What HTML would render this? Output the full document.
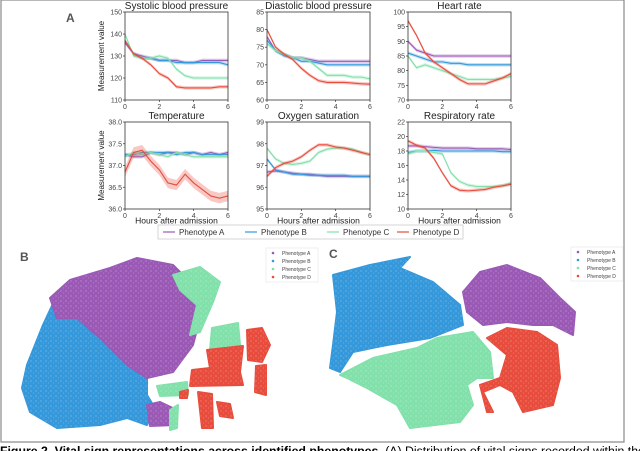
<!DOCTYPE html>
<html><head><meta charset="utf-8">
<style>
html,body{margin:0;padding:0;background:#fff;}
body{width:640px;height:451px;overflow:hidden;position:relative;font-family:"Liberation Sans",Arial,sans-serif;}
svg{position:absolute;left:0;top:0;}
</style></head>
<body>
<svg id="fig" width="640" height="451" viewBox="0 0 640 451">
  <rect x="1" y="0" width="623" height="442" fill="none" stroke="#888" stroke-width="1.2"/>
  <text x="66" y="22" font-size="12" font-weight="bold" fill="#555">A</text>
  <text x="20" y="261" font-size="12" font-weight="bold" fill="#555">B</text>
  <text x="329" y="258" font-size="12" font-weight="bold" fill="#555">C</text>
  <g id="lines"></g>
  <g id="scatter"></g>
  <text x="0" y="455" font-size="12.3" font-weight="bold" fill="#000">Figure 2. Vital sign representations across identified phenotypes.  <tspan font-weight="normal">(A) Distribution of vital signs recorded within the initial</tspan></text>
</svg>
<script>
const NS="http://www.w3.org/2000/svg";
const hours=[0,0.5,1,1.5,2,2.5,3,3.5,4,4.5,5,5.5,6];
const phenotypes=["Phenotype A","Phenotype B","Phenotype C","Phenotype D"];
const colors=["#9b59b6","#3498db","#82e0aa","#e74c3c"];
const titles=["Systolic blood pressure","Diastolic blood pressure","Heart rate","Temperature","Oxygen saturation","Respiratory rate"];
const yTicks=[[110,120,130,140,150],[60,65,70,75,80,85],[70,75,80,85,90,95,100],[36.0,36.5,37.0,37.5,38.0],[95,96,97,98,99],[10,12,14,16,18,20,22]];
const yTickLabels=[["110","120","130","140","150"],["60","65","70","75","80","85"],["70","75","80","85","90","95","100"],["36.0","36.5","37.0","37.5","38.0"],["95","96","97","98","99"],["10","12","14","16","18","20","22"]];
const xTicks=[0,2,4,6];
const sysA=[136,131,130,129,128,128,128,127,127,128,128,128,128];
const sysB=[137,131,129,129,128,128,127,127,127,127,127,127,126];
const sysC=[140,130,129,129,130,129,124,121,120,120,120,120,120];
const sysD=[137,131,129,126,122,120,116,115.5,115.5,115.5,115.5,116,116];
const diaA=[78,74,73,72,72,71.5,71,71,71,71,71,71,71];
const diaB=[77,74,72.5,72,71,71,70.5,70,70,70,70,70,70];
const diaC=[76,74,73,72,72,71,69,67,67,67,66.5,66.5,66];
const diaD=[80,75,73,71.5,69,67,65.5,65,65,65,64.8,64.6,64.5];
const hrA=[90,87,86,85,85,85,85,85,85,85,85,85,85];
const hrB=[86,85,84,83,83,82.5,82.5,82,82,82,82,82,82];
const hrC=[85,81,82,81,80,79,78,77,77,77,77,77.5,78];
const hrD=[97,92,86,83,81,79,77,75.5,75.5,75.5,76.5,77.5,79];
const tmpA=[37.25,37.2,37.2,37.3,37.25,37.3,37.3,37.25,37.3,37.25,37.3,37.25,37.3];
const tmpB=[37.25,37.25,37.3,37.3,37.3,37.3,37.25,37.3,37.3,37.25,37.25,37.25,37.25];
const tmpC=[37.2,37.3,37.25,37.3,37.25,37.2,37.3,37.25,37.2,37.2,37.2,37.2,37.2];
const tmpD=[36.85,37.3,37.35,37.1,36.9,36.6,36.55,36.8,36.6,36.45,36.3,36.25,36.3];
const oxA=[96.7,96.75,96.7,96.65,96.6,96.6,96.55,96.5,96.5,96.5,96.5,96.5,96.5];
const oxB=[97.3,96.8,96.7,96.6,96.6,96.55,96.55,96.55,96.55,96.55,96.5,96.5,96.5];
const oxC=[97.8,97.3,97.1,97.05,97.1,97.2,97.6,97.75,97.8,97.8,97.75,97.6,97.5];
const oxD=[96.5,96.9,97.1,97.2,97.4,97.7,97.95,97.95,97.85,97.8,97.7,97.6,97.5];
const rrA=[18.7,18.7,18.6,18.5,18.4,18.4,18.4,18.4,18.3,18.3,18.3,18.3,18.2];
const rrB=[17.8,18,18,18.1,18,18,18,18,18,18,18,17.9,17.9];
const rrC=[17.6,18,18,17.8,17.6,15,13.8,13.3,13.1,13.1,13.1,13.2,13.6];
const rrD=[19.4,18.8,18.4,17,15,13.2,12.6,12.5,12.6,12.7,13,13.2,13.4];
const series=[[sysA,sysB,sysC,sysD],[diaA,diaB,diaC,diaD],[hrA,hrB,hrC,hrD],[tmpA,tmpB,tmpC,tmpD],[oxA,oxB,oxC,oxD],[rrA,rrB,rrC,rrD]];

function mk(tag,attrs,parent){const e=document.createElementNS(NS,tag);for(const k in attrs)e.setAttribute(k,attrs[k]);parent.appendChild(e);return e;}
const L=document.getElementById('lines');
const cols=[[125,228],[267,370],[408,511]];
const rows=[[12,100],[122,209]];
const xMax=6;
for(let p=0;p<6;p++){
  const [x0,x1]=cols[p%3],[y0,y1]=rows[Math.floor(p/3)];
  const tk=yTicks[p],ymin=tk[0],ymax=tk[tk.length-1];
  const sx=v=>x0+(v/xMax)*(x1-x0);
  const sy=v=>y1-(v-ymin)/(ymax-ymin)*(y1-y0);
  const g=mk('g',{},L);
  
  
  const t=mk('text',{x:(x0+x1)/2,y:y0-3,'text-anchor':'middle','font-size':'10',fill:'#222'},g);
  t.textContent=titles[p];
  
  
  const band=(ymax-ymin)*0.02;
  series[p].forEach((s,i)=>{
    const bw=band*(i==3&&p==3?3:1);
    let up=hours.map((h,j)=>sx(h)+','+sy(s[j]+bw)).join(' ');
    let dn=hours.slice().reverse().map((h,j)=>sx(h)+','+sy(s[s.length-1-j]-bw)).join(' ');
    const b=mk('polygon',{points:up+' '+dn,fill:colors[i],opacity:0.3},g);
    
    
    const l=mk('polyline',{points:hours.map((h,j)=>sx(h)+','+sy(s[j])).join(' '),fill:'none',stroke:colors[i],'stroke-width':1.1},g);
    
    
  });
  const fr=mk('rect',{x:x0,y:y0,width:x1-x0,height:y1-y0,fill:'none',stroke:'#333','stroke-width':0.8},g);
  
  
  tk.forEach((v,k)=>{
    mk('line',{x1:x0-2,x2:x0,y1:sy(v),y2:sy(v),stroke:'#333','stroke-width':0.7},g);
    const tt=mk('text',{x:x0-3,y:sy(v)+2.5,'text-anchor':'end','font-size':'7',fill:'#444'},g);
    tt.textContent=yTickLabels[p][k];
    
    
  });
  xTicks.forEach(v=>{
    mk('line',{x1:sx(v),x2:sx(v),y1:y1,y2:y1+2,stroke:'#333','stroke-width':0.7},g);
    const tt=mk('text',{x:sx(v),y:y1+9,'text-anchor':'middle','font-size':'7',fill:'#444'},g);
    tt.textContent=String(v);
    
    
  });
  if(p%3==0){
    const yl=mk('text',{x:0,y:0,transform:'translate(104,'+((y0+y1)/2)+') rotate(-90)','text-anchor':'middle','font-size':'8',fill:'#222'},g);
    yl.textContent='Measurement value';
    
    
  }
  if(p>=3){
    const xl=mk('text',{x:(x0+x1)/2,y:y1+14.5,'text-anchor':'middle','font-size':'8.5',fill:'#222'},g);
    xl.textContent='Hours after admission';
    
    
  }
}
const lg=mk('g',{},L);


mk('rect',{x:158,y:225,width:305,height:14,fill:'#fff',stroke:'#ccc','stroke-width':0.8},lg);
const legX=[163,245,327,397];
phenotypes.forEach((n,i)=>{
  mk('line',{x1:legX[i],x2:legX[i]+12,y1:232,y2:232,stroke:colors[i],'stroke-width':1.2},lg);
  const tt=mk('text',{x:legX[i]+16,y:235,'font-size':'8',fill:'#333'},lg);
  tt.textContent=n;
  
  
});

const S=document.getElementById('scatter');
const defs=mk('defs',{},S);
const pat=mk('pattern',{id:'speck',width:5,height:5,patternUnits:'userSpaceOnUse'},defs);
mk('circle',{cx:1,cy:1,r:0.45,fill:'#fff',opacity:0.7},pat);
mk('circle',{cx:3.5,cy:3,r:0.35,fill:'#fff',opacity:0.6},pat);
const bRegions=[
 [1,"57,295 77,318 100,338 127,365 147,378 147,395 153,405 147,425 127,418 100,425 57,428 30,412 22,388 27,365 43,325"],
 [0,"50,298 70,280 110,268 137,258 173,265 193,285 200,318 193,345 173,372 147,378 127,365 100,338 77,318 57,318"],
 [0,"147,405 160,402 177,410 175,425 150,426"],
 [2,"173,275 200,267 220,282 213,302 200,332 190,335 197,305 180,290"],
 [2,"212,328 238,323 240,345 210,350"],
 [2,"157,386 187,382 188,395 160,396"],
 [2,"170,410 178,405 177,428 170,430"],
 [3,"207,350 243,346 240,372 243,385 190,386 192,370 210,368"],
 [3,"247,330 262,328 270,345 262,362 248,360"],
 [3,"198,392 212,394 213,428 202,428"],
 [3,"217,402 230,404 233,418 220,416"],
 [3,"256,366 266,365 266,395 255,392"],
 [3,"180,392 188,390 187,398 180,398"]
];
const cRegions=[
 [1,"333,275 370,265 410,257 400,268 433,282 460,305 463,325 430,338 387,345 353,352 340,372 330,368 333,345 337,312"],
 [0,"463,292 480,272 507,265 540,278 560,298 575,312 573,335 553,325 533,325 507,322 483,325 467,312"],
 [2,"340,375 373,358 417,348 437,338 473,332 490,352 493,378 477,378 467,385 473,405 460,422 410,428 397,405 367,388 347,378"],
 [3,"487,338 507,328 537,332 557,345 560,378 553,405 523,412 513,392 500,385 483,392 493,412 487,412 480,385 500,378 507,355"]
];
function drawRegions(arr,name){
  arr.forEach(r=>{
    const pg=mk('polygon',{points:r[1],fill:colors[r[0]],stroke:colors[r[0]],'stroke-width':2,'stroke-linejoin':'round'},S);
    
    
    mk('polygon',{points:r[1],fill:'url(#speck)'},S);
  });
}
drawRegions(bRegions,'tsne-b');
drawRegions(cRegions,'tsne-c');
function scatterLegend(x,y,w,name){
  const g=mk('g',{},S);
  
  
  mk('rect',{x:x,y:y,width:w,height:34,fill:'#fff',stroke:'#e4e4e4','stroke-width':0.6},g);
  phenotypes.forEach((n,i)=>{
    mk('circle',{cx:x+7,cy:y+5+i*8,r:1.3,fill:colors[i]},g);
    const tt=mk('text',{x:x+16,y:y+7+i*8,'font-size':'5',fill:'#444'},g);
    tt.textContent=n;
    
    
  });
}
scatterLegend(266,248,52,'tsne-b-legend');
scatterLegend(571,247,52,'tsne-c-legend');
</script>
</body></html>
